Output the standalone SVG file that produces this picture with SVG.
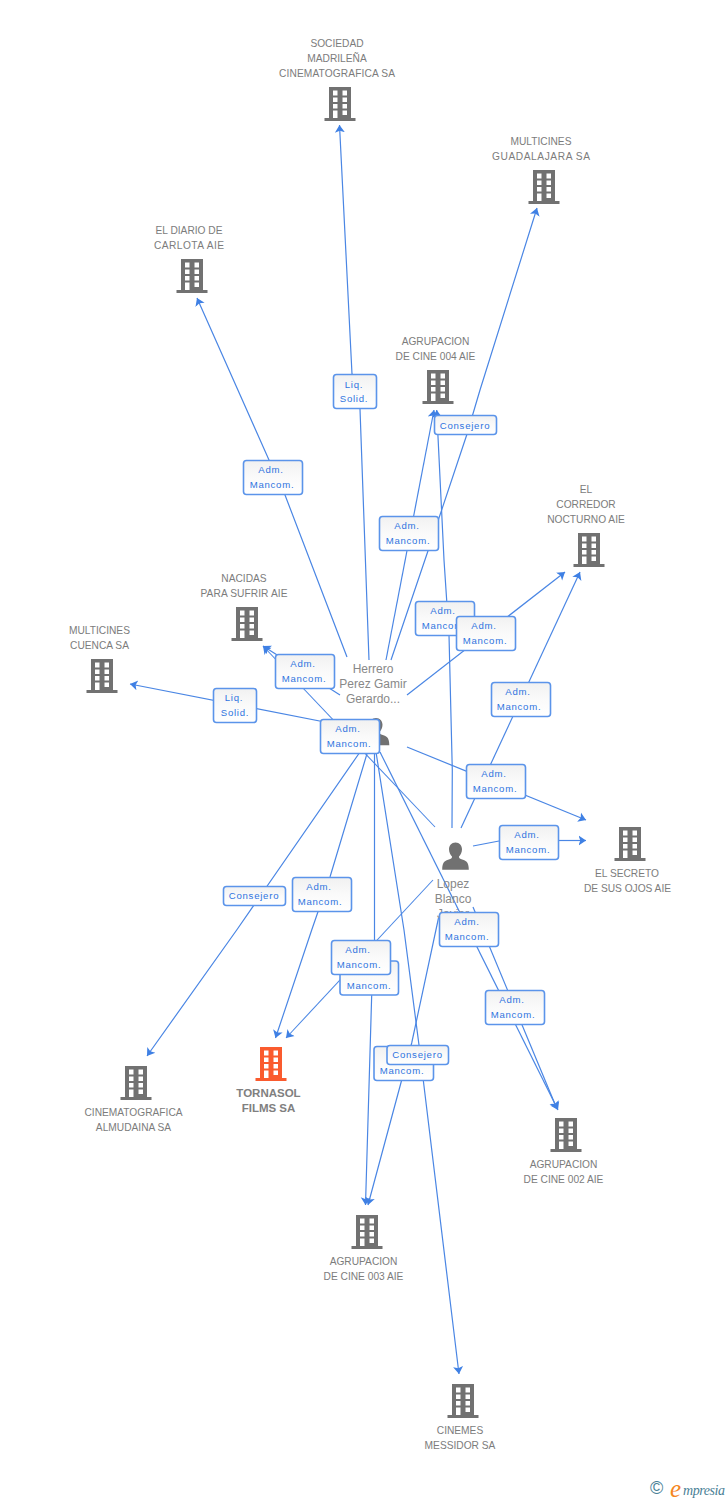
<svg xmlns="http://www.w3.org/2000/svg" width="728" height="1500" viewBox="0 0 728 1500">
<style>
.n{font-family:"Liberation Sans",Arial,sans-serif;font-size:10.2px;fill:#7c7c7c;text-anchor:middle}
.p{font-family:"Liberation Sans",Arial,sans-serif;font-size:12px;fill:#888;text-anchor:middle}
.t{font-family:"Liberation Sans",Arial,sans-serif;font-size:11.5px;font-weight:bold;fill:#808080;text-anchor:middle}
.l{font-family:"Liberation Sans",Arial,sans-serif;font-size:9.6px;letter-spacing:.75px;fill:#2f74e0;text-anchor:middle}
.b{fill:url(#g);stroke:#5b94ea;stroke-width:1.6}
.e{fill:none;stroke:#4a86e4;stroke-width:1.2;marker-end:url(#a)}
.e2{fill:none;stroke:#4a86e4;stroke-width:1.2}
.bld{fill:#717171}
.tor{fill:#fa5b2e}
</style>
<defs>
<linearGradient id="g" x1="0" y1="0" x2="0" y2="1"><stop offset="0" stop-color="#f1f1f1"/><stop offset=".5" stop-color="#fafafa"/><stop offset="1" stop-color="#fff"/></linearGradient>
<marker id="a" markerUnits="userSpaceOnUse" markerWidth="12" markerHeight="12" refX="7.500" refY="5.500" orient="auto"><path d="M0 0.500 L7.500 5.500 L0 10.500 L1.800 5.500Z" fill="#3f80e4"/></marker>
<g id="bi">
<path d="M-11 0H11V31H15.500V34H-15.500V31H-11Z M-7 3.500V8.500H-2.500V3.500Z M2.500 3.500V8.500H7V3.500Z M-7 10.500V15H-2.500V10.500Z M2.500 10.500V15H7V10.500Z M-7 17V21.500H-2.500V17Z M2.500 17V21.500H7V17Z M-7 23.500V31H-2.500V23.500Z M2.500 23.500V28H7V23.500Z" fill-rule="evenodd"/>
</g>
<path id="pi" d="M0 0C4 0 6.500 3 6.500 6.800C6.500 10 5 12.500 3.500 14C3.500 15.500 4 16 6 16.800C10 18 13.300 19 13.300 27.300H-13.300C-13.300 19 -10 18 -6 16.800C-4 16 -3.500 15.500 -3.500 14C-5 12.500 -6.500 10 -6.500 6.800C-6.500 3 -4 0 0 0Z" fill="#717171"/>
</defs>
<g id="connectors">
<path class="e" d="M369 660L360 409L352 374L339.500 125"/>
<path class="e" d="M391 660L428.300 550L466.700 435L480 390L537 208"/>
<path class="e" d="M347 657L285 495L269 460L197 298"/>
<path class="e" d="M386 660L434 410"/>
<path class="e" d="M452 828L452.300 770L449 635L444 560L436.700 410"/>
<path class="e" d="M407 695L565 572"/>
<path class="e" d="M340 695L263 646"/>
<path class="e" d="M435 827L263 646" style="stroke-width:1.050"/>
<path class="e" d="M340 725L130 684"/>
<path class="e" d="M360 752L236.700 930L147 1056"/>
<path class="e" d="M367.500 752L330 877L311.700 930L275.500 1038"/>
<path class="e" d="M374.500 752L374.500 950L371.700 995L365.500 1205"/>
<path class="e" d="M376 752L404 930L419 1045L459 1374"/>
<path class="e" d="M438.500 918L411.700 1043L401.700 1080L368 1205"/>
<path class="e" d="M433 880L286 1038" style="stroke-width:1.050"/>
<path class="e" d="M473 907L557 1109"/>
<path class="e" d="M380 752L558 1110"/>
<path class="e" d="M407 747L586 820"/>
<path class="e2" d="M473 846L499 841"/>
<path class="e" d="M559 840.500L586 840.500"/>
<path class="e" d="M461 828L580 572"/>
</g>
<g id="n-sociedad"><use href="#bi" class="bld" x="340" y="87"/><text class="n" x="337" y="47">SOCIEDAD</text><text class="n" x="337" y="62">MADRILEÑA</text><text class="n" x="337" y="77" textLength="116">CINEMATOGRAFICA SA</text></g>
<g id="n-guadalajara"><use href="#bi" class="bld" x="544" y="170"/><text class="n" x="541" y="145">MULTICINES</text><text class="n" x="541" y="160" textLength="98">GUADALAJARA SA</text></g>
<g id="n-diario"><use href="#bi" class="bld" x="192" y="259"/><text class="n" x="189" y="234">EL DIARIO DE</text><text class="n" x="189" y="249" textLength="70">CARLOTA AIE</text></g>
<g id="n-004"><use href="#bi" class="bld" x="438" y="370"/><text class="n" x="435.500" y="345">AGRUPACION</text><text class="n" x="435.500" y="360">DE CINE 004 AIE</text></g>
<g id="n-corredor"><use href="#bi" class="bld" x="589" y="533"/><text class="n" x="586" y="493">EL</text><text class="n" x="586" y="508">CORREDOR</text><text class="n" x="586" y="523">NOCTURNO AIE</text></g>
<g id="n-nacidas"><use href="#bi" class="bld" x="247" y="607"/><text class="n" x="244" y="582">NACIDAS</text><text class="n" x="244" y="597" textLength="87">PARA SUFRIR AIE</text></g>
<g id="n-cuenca"><use href="#bi" class="bld" x="102" y="659"/><text class="n" x="99.500" y="634">MULTICINES</text><text class="n" x="99.500" y="649">CUENCA SA</text></g>
<g id="n-secreto"><use href="#bi" class="bld" x="630" y="827"/><text class="n" x="627" y="877">EL SECRETO</text><text class="n" x="627.500" y="892" textLength="87">DE SUS OJOS AIE</text></g>
<g id="n-almudaina"><use href="#bi" class="bld" x="136" y="1066"/><text class="n" x="133.500" y="1116">CINEMATOGRAFICA</text><text class="n" x="133.500" y="1131">ALMUDAINA SA</text></g>
<g id="n-tornasol"><use href="#bi" class="tor" x="271" y="1047"/><text class="t" x="268.500" y="1097">TORNASOL</text><text class="t" x="268.500" y="1112">FILMS SA</text></g>
<g id="n-002"><use href="#bi" class="bld" x="566" y="1118"/><text class="n" x="563.500" y="1168">AGRUPACION</text><text class="n" x="563.500" y="1183">DE CINE 002 AIE</text></g>
<g id="n-003"><use href="#bi" class="bld" x="367" y="1215"/><text class="n" x="363.500" y="1265">AGRUPACION</text><text class="n" x="363.500" y="1280">DE CINE 003 AIE</text></g>
<g id="n-cinemes"><use href="#bi" class="bld" x="463" y="1384"/><text class="n" x="460" y="1434">CINEMES</text><text class="n" x="460" y="1449">MESSIDOR SA</text></g>
<g id="n-herrero"><use href="#pi" x="376" y="718"/><text class="p" x="373" y="673">Herrero</text><text class="p" x="373" y="688">Perez Gamir</text><text class="p" x="373" y="703">Gerardo...</text></g>
<g id="n-lopez"><use href="#pi" x="455.500" y="842.500"/><text class="p" x="453" y="888">Lopez</text><text class="p" x="453" y="903">Blanco</text><text class="p" x="453" y="918">Javier</text></g>
<g id="edge-labels">
<g><rect class="b" x="333.500" y="374.500" width="43" height="34" rx="3"/><text class="l" x="354" y="388">Liq.</text><text class="l" x="354" y="402">Solid.</text></g>
<g><rect class="b" x="243.500" y="460.500" width="59" height="34" rx="3"/><text class="l" x="271" y="473">Adm.</text><text class="l" x="272" y="488">Mancom.</text></g>
<g><rect class="b" x="379.500" y="516.500" width="59" height="34" rx="3"/><text class="l" x="407" y="529">Adm.</text><text class="l" x="408" y="544">Mancom.</text></g>
<g><rect class="b" x="434.500" y="415.500" width="62" height="19" rx="3"/><text class="l" x="465" y="429">Consejero</text></g>
<g><rect class="b" x="415.500" y="601.500" width="59" height="34" rx="3"/><text class="l" x="443" y="614">Adm.</text><text class="l" x="444" y="629">Mancom.</text></g>
<g><rect class="b" x="456.500" y="616.500" width="59" height="34" rx="3"/><text class="l" x="484" y="629">Adm.</text><text class="l" x="485" y="644">Mancom.</text></g>
<g><rect class="b" x="275.500" y="654.500" width="59" height="34" rx="3"/><text class="l" x="303" y="667">Adm.</text><text class="l" x="304" y="682">Mancom.</text></g>
<g><rect class="b" x="213.500" y="688.500" width="43" height="34" rx="3"/><text class="l" x="234" y="701">Liq.</text><text class="l" x="235" y="716">Solid.</text></g>
<g><rect class="b" x="320.500" y="719.500" width="59" height="34" rx="3"/><text class="l" x="348" y="732">Adm.</text><text class="l" x="349" y="747">Mancom.</text></g>
<g><rect class="b" x="491.500" y="682.500" width="59" height="34" rx="3"/><text class="l" x="518" y="695">Adm.</text><text class="l" x="519" y="710">Mancom.</text></g>
<g><rect class="b" x="466.500" y="764.500" width="59" height="34" rx="3"/><text class="l" x="494" y="777">Adm.</text><text class="l" x="495" y="792">Mancom.</text></g>
<g><rect class="b" x="499.500" y="825.500" width="59" height="34" rx="3"/><text class="l" x="527" y="838">Adm.</text><text class="l" x="528" y="853">Mancom.</text></g>
<g><rect class="b" x="223.500" y="886.500" width="62" height="19" rx="3"/><text class="l" x="254" y="899">Consejero</text></g>
<g><rect class="b" x="292.500" y="877.500" width="59" height="34" rx="3"/><text class="l" x="319" y="890">Adm.</text><text class="l" x="320" y="905">Mancom.</text></g>
<g><rect class="b" x="340" y="961" width="58.500" height="34" rx="3"/><text class="l" x="369" y="989">Mancom.</text></g>
<g><rect class="b" x="331.500" y="940.500" width="59" height="34" rx="3"/><text class="l" x="358" y="953">Adm.</text><text class="l" x="359" y="968">Mancom.</text></g>
<g><rect class="b" x="439.500" y="912.500" width="59" height="34" rx="3"/><text class="l" x="467" y="925">Adm.</text><text class="l" x="467" y="940">Mancom.</text></g>
<g><rect class="b" x="485.500" y="990.500" width="59" height="34" rx="3"/><text class="l" x="512" y="1003">Adm.</text><text class="l" x="513" y="1018">Mancom.</text></g>
<g><rect class="b" x="374" y="1046.500" width="59.500" height="34" rx="3"/><text class="l" x="402" y="1074">Mancom.</text></g>
<g><rect class="b" x="387" y="1045.500" width="61.500" height="19" rx="3"/><text class="l" x="417.500" y="1058">Consejero</text></g>
</g>
<g id="logo"><text x="650" y="1494" font-family="'Liberation Sans',sans-serif" font-size="18" fill="#4a7f96">©</text><text x="670" y="1497" font-family="'Liberation Serif',serif" font-style="italic" font-size="25" fill="#f5871f">e</text><text x="683" y="1495" font-family="'Liberation Serif',serif" font-style="italic" font-size="14" textLength="42" fill="#4a7f96">mpresia</text></g>
</svg>
